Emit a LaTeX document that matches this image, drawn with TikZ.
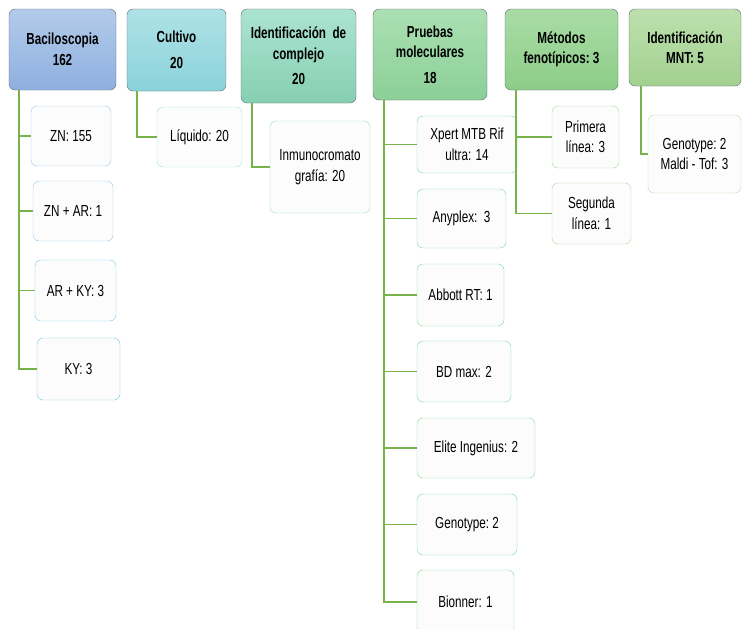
\documentclass[tikz,border=0pt]{standalone}
\usepackage{fontspec}
\setmainfont{Liberation Sans}[FakeStretch=0.73]
\usetikzlibrary{positioning}

\definecolor{hdrline}{HTML}{5F6B6D}
\definecolor{linkgreen}{HTML}{77B24A}
\definecolor{leaffill}{HTML}{FCFCFC}
% header shades
\definecolor{bactop}{HTML}{B3CBEA}\definecolor{bacbot}{HTML}{8EB0E0}
\definecolor{cultop}{HTML}{AFE2E6}\definecolor{culbot}{HTML}{8AD2DA}
\definecolor{idctop}{HTML}{ACE3D2}\definecolor{idcbot}{HTML}{86CFB2}
\definecolor{pmtop}{HTML}{ABE0B4}\definecolor{pmbot}{HTML}{8CCF97}
\definecolor{mftop}{HTML}{A9DCA5}\definecolor{mfbot}{HTML}{8DCD88}
\definecolor{mnttop}{HTML}{BDE0AD}\definecolor{mntbot}{HTML}{A2D190}
% leaf borders
\definecolor{znline}{HTML}{9DC3E6}
\definecolor{znarline}{HTML}{96C8E4}
\definecolor{arkyline}{HTML}{7DC8E2}
\definecolor{kyline}{HTML}{6CCBDC}
\definecolor{liqline}{HTML}{9FE0E0}
\definecolor{inmline}{HTML}{8FDCC8}
\definecolor{pmline}{HTML}{7DD69A}
\definecolor{mfline}{HTML}{A5DC98}
\definecolor{mntline}{HTML}{B3E0A0}

\begin{document}
\begin{tikzpicture}
  [x=1pt,y=-1pt,
  every node/.style={font=\fontsize{16}{20.5}\selectfont,align=center,inner sep=2pt},
  hdr/.style={rounded corners=6pt,draw=hdrline,font=\fontsize{16}{20.5}\selectfont\bfseries},
  leaf/.style={rounded corners=6pt,draw=#1,fill=leaffill},
  link/.style={draw=linkgreen,line width=1.6pt}]
  \useasboundingbox (0,0) rectangle (742,629);
  % top row
  \node[hdr,top color=bactop,bottom color=bacbot,minimum width=107,minimum height=81] (bac) at (62.5,49.5) {Baciloscopia\\162};
  \node[hdr,top color=cultop,bottom color=culbot,minimum width=99,minimum height=82] (cul) at (176.5,50) {Cultivo\\[5pt]20};
  \node[hdr,top color=idctop,bottom color=idcbot,minimum width=115,minimum height=94] (idc) at (298.5,56) {Identificación\ \ de\\complejo\\[5pt]20};
  \node[hdr,top color=pmtop,bottom color=pmbot,minimum width=114,minimum height=91] (pm) at (430,54.5) {Pruebas\\moleculares\\[5pt]18};
  \node[hdr,top color=mftop,bottom color=mfbot,minimum width=113,minimum height=81] (mf) at (561.5,49.5) {Métodos\\fenotípicos:\ 3};
  \node[hdr,top color=mnttop,bottom color=mntbot,minimum width=112,minimum height=77] (mnt) at (685,47.5) {Identificación\\MNT: 5};
  % Baciloscopia
  \node[leaf=znline,minimum width=80,minimum height=60] (zn) at (71,136) {ZN: 155};
  \node[leaf=znarline,minimum width=80,minimum height=60] (znar) at (73,211) {ZN + AR: 1};
  \node[leaf=arkyline,minimum width=81,minimum height=61] (arky) at (75.5,290.5) {AR + KY: 3};
  \node[leaf=kyline,minimum width=83,minimum height=62] (ky) at (78.5,369) {KY: 3};
  % Cultivo / complejo
  \node[leaf=liqline,minimum width=85,minimum height=60] (liq) at (199.5,137) {Líquido: 20};
  \node[leaf=inmline,minimum width=100,minimum height=92] (inm) at (320,167) {Inmunocromato\\grafía: 20};
  % Pruebas moleculares
  \node[leaf=pmline,minimum width=100,minimum height=57] (xpert) at (467,144.5) {Xpert MTB\ Rif\\ultra: 14};
  \node[leaf=pmline,minimum width=89,minimum height=59] (any) at (461.5,218.5) {Anyplex:\ \ 3};
  \node[leaf=pmline,minimum width=87,minimum height=62] (abb) at (460.5,295) {Abbott RT: 1};
  \node[leaf=pmline,minimum width=94,minimum height=61] (bd) at (464,371.5) {BD max: 2};
  \node[leaf=pmline,minimum width=118,minimum height=60] (eli) at (476,448) {Elite Ingenius: 2};
  \node[leaf=pmline,minimum width=100,minimum height=61] (gen) at (467,524.5) {Genotype:\ 2};
  \node[leaf=pmline,minimum width=97,minimum height=64] (bio) at (465.5,602) {Bionner: 1};
  % Metodos fenotipicos / MNT
  \node[leaf=mfline,minimum width=67,minimum height=62] (pri) at (585.5,137) {Primera\\línea: 3};
  \node[leaf=mfline,minimum width=79,minimum height=61] (seg) at (591.5,213.5) {Segunda\\línea: 1};
  \node[leaf=mntline,minimum width=93,minimum height=78] (gm) at (694.5,154) {Genotype:\ 2\\Maldi - Tof: 3};
  % connectors
  \foreach \kid in {zn,znar,arky,ky}
    \draw[link] ([xshift=10pt]bac.south west) |- (\kid.west);
  \draw[link] ([xshift=10pt]cul.south west) |- (liq.west);
  \draw[link] ([xshift=11pt]idc.south west) |- (inm.west);
  \foreach \kid in {xpert,any,abb,bd,eli,gen,bio}
    \draw[link] ([xshift=11pt]pm.south west) |- (\kid.west);
  \foreach \kid in {pri,seg}
    \draw[link] ([xshift=11pt]mf.south west) |- (\kid.west);
  \draw[link] ([xshift=12pt]mnt.south west) |- (gm.west);
\end{tikzpicture}
\end{document}
